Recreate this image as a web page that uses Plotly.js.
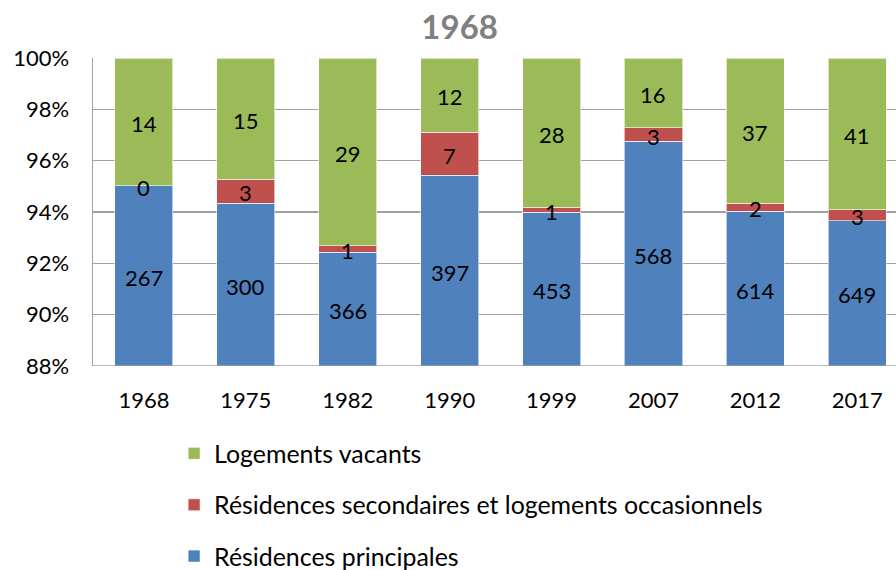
<!DOCTYPE html>
<html>
<head>
<meta charset="utf-8">
<script src="https://cdn.plot.ly/plotly-3.0.1.min.js"></script>
<style>html,body{margin:0;padding:0;overflow:hidden;background:#fff;width:896px;height:570px}</style>
</head>
<body>
<div id="chart" style="width:896px;height:600px"></div>
<script>
const years = ['1968','1975','1982','1990','1999','2007','2012','2017'];
const principales = [267, 300, 366, 397, 453, 568, 614, 649];
const secondaires = [0, 3, 1, 7, 1, 3, 2, 3];
const vacants = [14, 15, 29, 12, 28, 16, 37, 41];
const yTicks = [88, 90, 92, 94, 96, 98, 100];
const yMin = 88;

const FONT = 'Lato, "Open Sans", sans-serif';

// percentage positions of each segment (derived from the data above)
const totals = years.map((_, i) => principales[i] + secondaires[i] + vacants[i]);
const pTop = principales.map((v, i) => 100 * v / totals[i]);
const sTop = secondaires.map((v, i) => pTop[i] + 100 * v / totals[i]);
const labelP = pTop.map(t => (yMin + t) / 2);
const labelS = secondaires.map((v, i) => (pTop[i] + sTop[i]) / 2);
const labelV = sTop.map(t => (t + 100) / 2);

function barTrace(name, vals, color, rank) {
  return {
    type: 'bar', x: years, y: vals, name: name,
    textposition: 'none', hoverinfo: 'skip',
    legendrank: rank, legendgroup: name,
    marker: {color: color, line: {color: 'rgba(255,255,255,0.6)', width: 1}}
  };
}
function labelAnnots(ys, vals) {
  // x given as category index (category axis)
  return years.map((yr, i) => ({
    x: i, y: ys[i], xref: 'x', yref: 'y', text: String(vals[i]),
    showarrow: false, yshift: -1.5, xanchor: 'center', yanchor: 'middle',
    font: {family: FONT, size: 22, color: '#000'}
  }));
}
const traces = [
  barTrace('Résidences principales', principales, '#4F81BD', 3),
  barTrace('Résidences secondaires et logements occasionnels', secondaires, '#C0504D', 2),
  barTrace('Logements vacants', vacants, '#9BBB59', 1)
];

const layout = {
  width: 896, height: 600,
  margin: {l: 93, r: 0, t: 58, b: 234},
  paper_bgcolor: '#fff', plot_bgcolor: '#fff',
  barmode: 'stack', barnorm: 'percent', bargap: 0.43,
  font: {family: FONT, size: 22, color: '#000'},
  title: {text: '<b>1968</b>', font: {family: FONT, size: 33, color: '#808080'}, x: 0.513, xanchor: 'center', y: 0.954, yanchor: 'middle'},
  xaxis: {
    type: 'category', range: [-0.5, 7.38], showgrid: false, zeroline: false,
    showline: false, ticks: '', ticklabelstandoff: 19,
    tickfont: {family: FONT, size: 22, color: '#000'}, fixedrange: true
  },
  yaxis: {
    range: [yMin, 100], tickvals: yTicks, ticktext: yTicks.map(v => v + '%'),
    showgrid: true, gridcolor: '#A0A0A0', gridwidth: 1.5,
    showline: true, linecolor: '#A0A0A0', linewidth: 1.5,
    zeroline: false, ticks: '', ticklabelstandoff: 18,
    tickfont: {family: FONT, size: 22, color: '#000'}, fixedrange: true
  },
  showlegend: true,
  legend: {
    orientation: 'v', traceorder: 'grouped', tracegroupgap: 16,
    x: 0.101, xanchor: 'left', y: -0.21, yanchor: 'top',
    font: {family: FONT, size: 24.9, color: '#000'}, bgcolor: 'rgba(0,0,0,0)'
  },
  annotations: [].concat(labelAnnots(labelP, principales), labelAnnots(labelS, secondaires), labelAnnots(labelV, vacants)),
  shapes: [{type: 'line', xref: 'paper', yref: 'y', x0: 0, x1: 1, y0: yMin, y1: yMin, line: {color: '#A0A0A0', width: 1.5}}]
};

Plotly.newPlot('chart', traces, layout, {displayModeBar: false, staticPlot: true});
</script>
</body>
</html>
